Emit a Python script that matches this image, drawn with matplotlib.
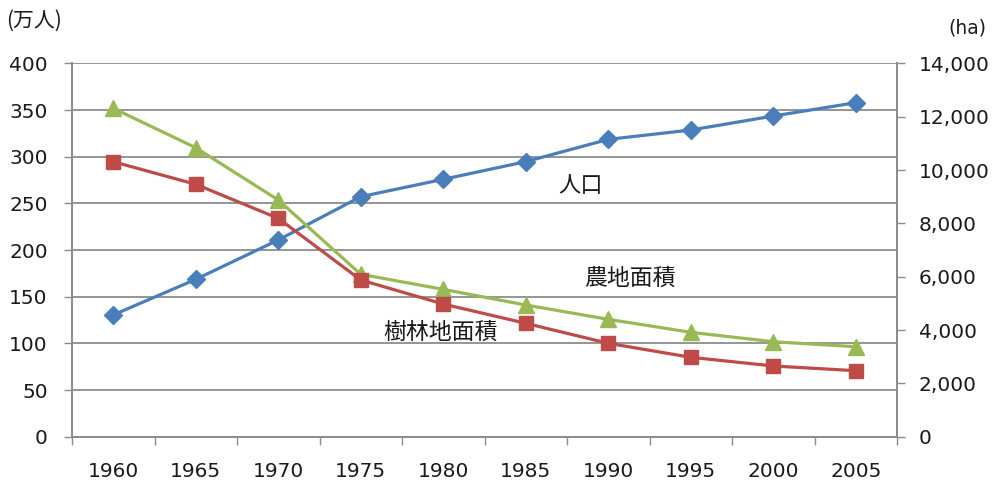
import matplotlib
matplotlib.use("Agg")
import matplotlib.pyplot as plt
from matplotlib.ticker import FuncFormatter, FixedLocator

plt.rcParams['font.family'] = ['DejaVu Sans', 'Noto Sans CJK JP']

years = ['1960', '1965', '1970', '1975', '1980', '1985', '1990', '1995', '2000', '2005']
population = [130.5, 168.6, 210.8, 257.2, 275.8, 294.7, 318.6, 328.6, 343.6, 357.9]   # 万人 (left axis)
farmland = [12315, 10838, 8877, 6090, 5527, 4939, 4402, 3915, 3562, 3375]             # ha (right axis)
woodland = [10313, 9465, 8190, 5877, 4976, 4252, 3503, 2978, 2652, 2475]              # ha (right axis)

left_ticks = [0, 50, 100, 150, 200, 250, 300, 350, 400]
right_ticks = [0, 2000, 4000, 6000, 8000, 10000, 12000, 14000]

BLUE = '#4A7EBB'
RED = '#BE4B48'
GREEN = '#98B954'
GRID = '#8C8C8C'
TXT = '#1a1a1a'

fig = plt.figure(figsize=(9.99, 4.80), dpi=100)
ax = fig.add_axes([72/999, 1-436.7/480, 825/999, 373.3/480])
ax2 = ax.twinx()

x = list(range(len(years)))

ax.set_xlim(-0.5, len(years) - 0.5)
ax.set_ylim(0, 400)
ax2.set_ylim(0, 14000)

# gridlines
ax.yaxis.set_major_locator(FixedLocator(left_ticks))
ax.grid(axis='y', color=GRID, linewidth=1.3)
ax.set_axisbelow(True)

# lines
ax.plot(x, population, color=BLUE, linewidth=2.3, marker='D', markersize=9.5,
        markerfacecolor=BLUE, markeredgecolor=BLUE, zorder=3)
ax2.plot(x, farmland, color=GREEN, linewidth=2.3, marker='^', markersize=11,
         markerfacecolor=GREEN, markeredgecolor=GREEN, zorder=3)
ax2.plot(x, woodland, color=RED, linewidth=2.3, marker='s', markersize=10.5,
         markerfacecolor=RED, markeredgecolor=RED, zorder=4)

# x axis: category labels centred, tick marks at boundaries
ax.set_xticks(x)
ax.set_xticklabels(years)
ax.set_xticks([i - 0.5 for i in range(len(years) + 1)], minor=True)
ax.tick_params(axis='x', which='major', length=0, pad=18, labelsize=14.5, labelcolor=TXT)
ax.tick_params(axis='x', which='minor', length=5.5, width=1, color=GRID, direction='out')

ax.tick_params(axis='y', length=5.5, width=1, color=GRID, direction='out', pad=12,
               labelsize=14.5, labelcolor=TXT)

ax2.yaxis.set_major_locator(FixedLocator(right_ticks))
ax2.yaxis.set_major_formatter(FuncFormatter(lambda v, p: f'{int(v):,}'))
ax2.tick_params(axis='y', length=5.5, width=1, color=GRID, direction='out', pad=10,
                labelsize=14.5, labelcolor=TXT)

for a in (ax, ax2):
    a.spines['top'].set_visible(False)
    for s in ('left', 'right', 'bottom'):
        a.spines[s].set_color(GRID)
        a.spines[s].set_linewidth(1.3)

cjk = ['Noto Sans CJK JP', 'DejaVu Sans']

# unit labels
fig.text(6/999, 1-21/480, '(万人)', fontsize=15, family=cjk,
         ha='left', va='center', color=TXT)
fig.text(967/999, 1-28/480, '(ha)', fontsize=13.5, ha='center', va='center', color=TXT)

# series labels
ax.text(0.6158, 0.674, '人口', transform=ax.transAxes, fontsize=16, family=cjk,
        ha='center', va='center', color=TXT)
ax.text(0.676, 0.425, '農地面積', transform=ax.transAxes, fontsize=16.5, family=cjk,
        ha='center', va='center', color=TXT)
ax.text(0.4467, 0.279, '樹林地面積', transform=ax.transAxes, fontsize=16.5, family=cjk,
        ha='center', va='center', color=TXT)

fig.savefig('out.png', dpi=100)
